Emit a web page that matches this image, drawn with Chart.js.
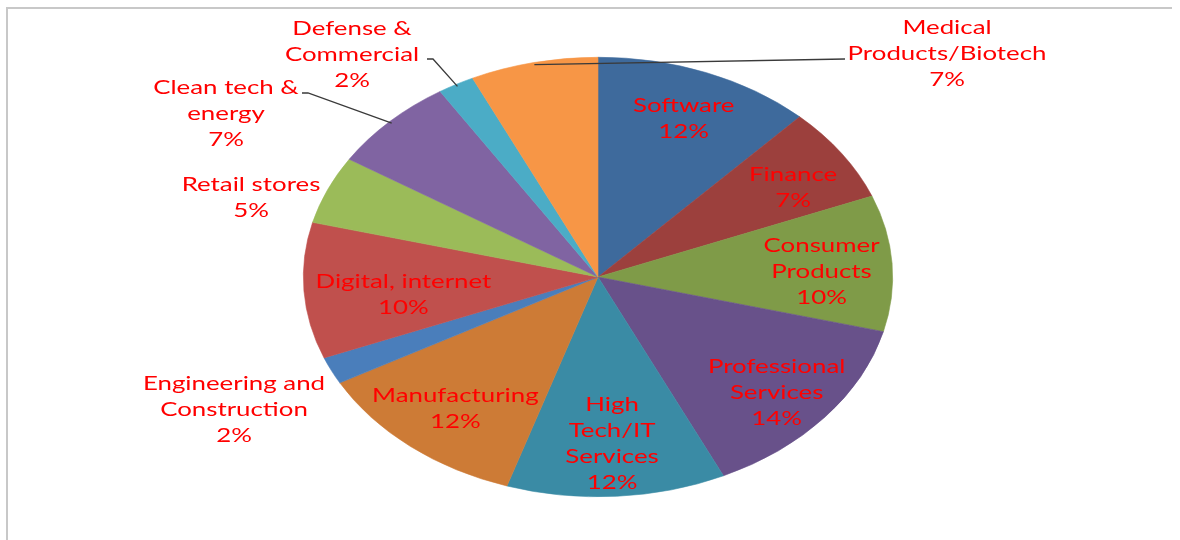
<!DOCTYPE html>
<html>
<head>
<meta charset="utf-8">
<script src="https://cdn.jsdelivr.net/npm/chart.js@4/dist/chart.umd.min.js"></script>
<style>
  html, body { margin: 0; padding: 0; background: #fff; }
  #wrap { position: relative; width: 1180px; height: 540px; }
  #frame { position: absolute; left: 6px; top: 7px; right: 8px; bottom: -10px;
           border-top: 2px solid #c8c8c8; border-left: 2px solid #c8c8c8; }
</style>
</head>
<body>
<div id="wrap">
  <div id="frame"></div>
  <canvas id="myChart" width="1180" height="540" style="position:absolute;left:0;top:0"></canvas>
</div>
<script>
var sectors = ["Software", "Finance", "Consumer Products", "Professional Services",
  "High Tech/IT Services", "Manufacturing", "Engineering and Construction",
  "Digital, internet", "Retail stores", "Clean tech & energy",
  "Defense & Commercial", "Medical Products/Biotech"];
var shares = [12, 7, 10, 14, 12, 12, 2, 10, 5, 7, 2, 7];
var sliceColors = ["#3e6a9c", "#9c403d", "#7f9b48", "#68518a", "#3a8ba5", "#cd7b36",
  "#4a7ebb", "#c0504d", "#9bbb59", "#8064a2", "#4bacc6", "#f79646"];

// how each label is written, line by line
var labelLines = [
  ["Software"], ["Finance"], ["Consumer", "Products"], ["Professional", "Services"],
  ["High", "Tech/IT", "Services"], ["Manufacturing"], ["Engineering and", "Construction"],
  ["Digital, internet"], ["Retail stores"], ["Clean tech &", "energy"],
  ["Defense &", "Commercial"], ["Medical", "Products/Biotech"]
];
// r = fraction of the radius along the slice middle (nudged by d),
// at = offset from the centre
var labelPlace = [
  {r: 0.79, d: [0, 3]}, {r: 0.78, d: [5, 7]}, {r: 0.75, d: [3, 5]},
  {r: 0.80, d: [-3, 4]}, {r: 0.76, d: [0, 0]}, {r: 0.77, d: [2, 1]},
  {at: [-364, 133]}, {r: 0.665, d: [1, 9]}, {at: [-347, -79]},
  {at: [-372, -163], leader: [[-290, -184], [-296, -184]]},
  {at: [-246, -222], leader: [[-165, -218], [-171, -218]]},
  {at: [349, -223], leader: [[247, -218]]}
];

var stretchX = 295 / 220;   // pie is drawn as a wide ellipse
var textStretch = 1.36;     // labels are wide, like the pie

var ellipse = {
  id: "ellipse",
  beforeDatasetsDraw: function (chart) {
    var arc = chart.getDatasetMeta(0).data[0];
    var ctx = chart.ctx;
    ctx.save();
    ctx.translate(arc.x, arc.y);
    ctx.scale(stretchX, 1);
    ctx.translate(-arc.x, -arc.y);
  },
  afterDatasetsDraw: function (chart) {
    chart.ctx.restore();
  }
};

var sliceLabels = {
  id: "sliceLabels",
  afterDraw: function (chart) {
    var ctx = chart.ctx;
    var arcs = chart.getDatasetMeta(0).data;
    var lineH = 26;
    ctx.save();
    ctx.font = "19px Lato";
    ctx.fillStyle = "#ff0000";
    ctx.textAlign = "center";
    ctx.textBaseline = "middle";
    arcs.forEach(function (arc, i) {
      var cx = arc.x, cy = arc.y;
      var rx = arc.outerRadius * stretchX, ry = arc.outerRadius;
      var mid = (arc.startAngle + arc.endAngle) / 2;
      var p = labelPlace[i], x, y;
      if (p.at) {
        x = cx + p.at[0]; y = cy + p.at[1];
      } else {
        x = cx + Math.cos(mid) * rx * p.r + p.d[0];
        y = cy + Math.sin(mid) * ry * p.r + p.d[1];
      }
      if (p.leader) {
        ctx.beginPath();
        ctx.strokeStyle = "#3a3a3a";
        ctx.lineWidth = 1.3;
        ctx.moveTo(cx + Math.cos(mid) * rx * 0.99, cy + Math.sin(mid) * ry * 0.99);
        p.leader.forEach(function (q) { ctx.lineTo(cx + q[0], cy + q[1]); });
        ctx.stroke();
      }
      var lines = labelLines[i].concat([shares[i] + "%"]);
      var top = y - (lines.length - 1) * lineH / 2;
      lines.forEach(function (t, k) {
        ctx.save();
        ctx.translate(x, top + k * lineH);
        ctx.scale(textStretch, 1);
        ctx.fillText(t, 0, 0);
        ctx.restore();
      });
    });
    ctx.restore();
  }
};

new Chart("myChart", {
  type: "pie",
  data: {
    labels: sectors,
    datasets: [{
      data: shares,
      backgroundColor: sliceColors,
      borderColor: sliceColors,
      borderWidth: 0.5,
      hoverOffset: 0
    }]
  },
  options: {
    responsive: false,
    animation: false,
    events: [],
    layout: {padding: {left: 16, right: 0, top: 57, bottom: 43}},
    plugins: {
      legend: {display: false},
      tooltip: {enabled: false}
    }
  },
  plugins: [ellipse, sliceLabels]
});
</script>
</body>
</html>
